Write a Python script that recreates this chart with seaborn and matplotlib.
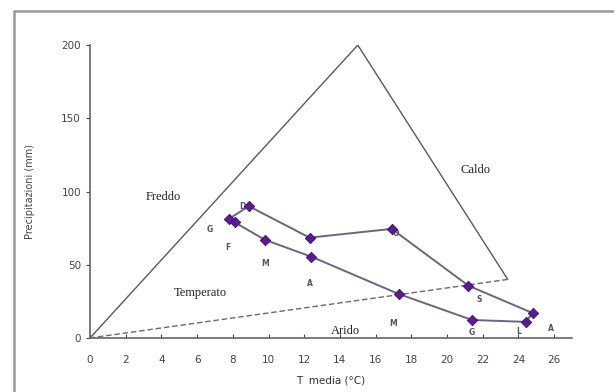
import numpy as np
import pandas as pd
import seaborn as sns
import matplotlib.pyplot as plt
from matplotlib.patches import Rectangle

# monthly climate values (peel-type climogram)
mesi = ["G", "F", "M", "A", "M", "G", "L", "A", "S", "O", "N", "D"]
t_media = [7.8, 8.1, 9.8, 12.4, 17.3, 21.4, 24.4, 24.8, 21.2, 16.9, 12.3, 8.9]
precip = [81.5, 79, 67, 55.5, 30, 12.3, 11, 17, 35.7, 74.5, 68.5, 90]

# triangle of climate regions
tri_x = [0, 15, 23.4]
tri_y = [0, 200, 40]
zone_names = ["Freddo", "Caldo", "Temperato", "Arido"]
zone_x = [4.1, 21.6, 6.2, 14.3]
zone_y = [96, 115, 31, 5]

x_ticks = list(range(0, 27, 2))
y_ticks = [0, 50, 100, 150, 200]

df = pd.DataFrame({"mese": mesi, "t": t_media, "p": precip})
chiuso = pd.concat([df, df.iloc[[0]]], ignore_index=True)

sns.set_style("ticks")
plt.rcParams["font.family"] = ["DejaVu Sans"]

fig = plt.figure(figsize=(6.14, 3.92), dpi=100)
ax = fig.add_axes([0.1466, 0.1378, 0.785, 0.7472])

# frame around the picture
fig.patches.append(Rectangle((14 / 614, -0.1), 1.2, 1 - 11 / 392 + 0.1,
                             transform=fig.transFigure, fill=False,
                             edgecolor="#9a9a9a", linewidth=1.8))

# triangle
ax.plot(tri_x[:2], tri_y[:2], color="#5a5a5a", lw=1.0)
ax.plot(tri_x[1:], tri_y[1:], color="#5a5a5a", lw=1.0)
ax.plot([tri_x[2], tri_x[0]], [tri_y[2], tri_y[0]], color="#6a6a6a", lw=1.0,
        ls=(0, (4, 2)))

sns.lineplot(data=chiuso, x="t", y="p", sort=False, estimator=None,
             color="#6b6585", lw=1.4, ax=ax)
sns.scatterplot(data=df, x="t", y="p", marker="D", s=28, color="#5b1a96",
                edgecolor="#3d0f6e", linewidth=0.6, ax=ax, zorder=5)

# month letters
offsets = [(-14, -8), (-5, -18), (0, -17), (-1, -19), (-4, -21), (0, -9),
           (-5, -7), (13, -11), (8, -10), (3, -3), (0, 0), (-5, 0)]
for m, x, y, off in zip(mesi, t_media, precip, offsets):
    if off == (0, 0):
        continue
    ax.annotate(m, (x, y), xytext=off, textcoords="offset points",
                ha="center", va="center", fontsize=5.5, fontweight="bold",
                color="#555555")

for name, x, y in zip(zone_names, zone_x, zone_y):
    ax.text(x, y, name, ha="center", va="center", fontsize=9,
            family="Liberation Serif", color="#222222")

ax.set_xlim(0, 27)
ax.set_ylim(0, 200)
ax.set_xticks(x_ticks)
ax.set_yticks(y_ticks)
ax.tick_params(axis="x", direction="in", length=3, labelsize=7.5,
               colors="#444444", pad=12)
ax.tick_params(axis="y", direction="out", length=3, labelsize=7.5,
               colors="#444444")
ax.set_xlabel("T  media (°C)", fontsize=7.5, color="#333333", labelpad=8)
ax.set_ylabel("Precipitazioni (mm)", fontsize=7, color="#444444", labelpad=19)
for s in ["top", "right"]:
    ax.spines[s].set_visible(False)
for s in ["left", "bottom"]:
    ax.spines[s].set_color("#666666")
    ax.spines[s].set_linewidth(1.2)

fig.savefig("out.png", dpi=100)
